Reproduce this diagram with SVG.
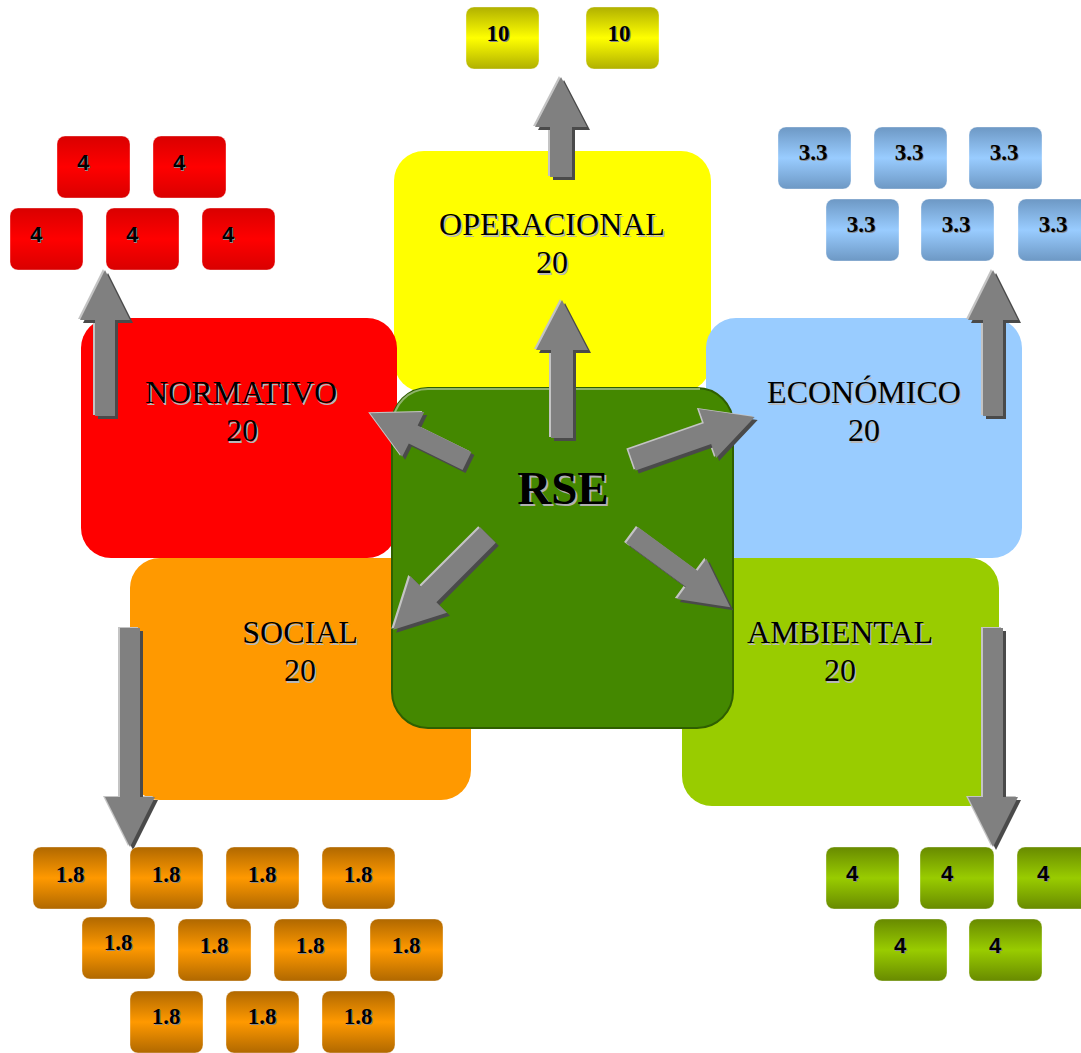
<svg xmlns="http://www.w3.org/2000/svg" xmlns:xlink="http://www.w3.org/1999/xlink" width="1081" height="1053" viewBox="0 0 1081 1053">
<style>
.big{font-family:"Liberation Serif","Times New Roman",serif;font-size:32px;text-anchor:middle;fill:#000}
.bigsh{font-family:"Liberation Serif","Times New Roman",serif;font-size:32px;text-anchor:middle;fill:#b8b8b8}
.rse{font-family:"Liberation Serif","Times New Roman",serif;font-size:47px;font-weight:bold;text-anchor:middle}
.num{font-family:"Liberation Serif","Times New Roman",serif;font-size:23px;font-weight:bold;text-anchor:middle;fill:#000}
.four{font-family:"Liberation Sans",Arial,sans-serif;font-size:22px;font-weight:bold;text-anchor:middle;fill:#000}
.sh{fill:#8a8a8a}
.sb{stroke:#ffffff;stroke-opacity:0.35;stroke-width:1}
.r{fill:url(#gR)}.y{fill:url(#gY)}.b{fill:url(#gB)}.o{fill:url(#gO)}.g{fill:url(#gG)}
.ah{fill:#c4c4c4}.ad{fill:#4a4a4a}.am{fill:#808080}
</style>
<defs>
<linearGradient id="gR" x1="0" y1="0" x2="0" y2="1"><stop offset="0" stop-color="#d90000"/><stop offset="0.5" stop-color="#ff0000"/><stop offset="1" stop-color="#d90000"/></linearGradient>
<linearGradient id="gY" x1="0" y1="0" x2="0" y2="1"><stop offset="0" stop-color="#b0b000"/><stop offset="0.5" stop-color="#ffff00"/><stop offset="1" stop-color="#b0b000"/></linearGradient>
<linearGradient id="gB" x1="0" y1="0" x2="0" y2="1"><stop offset="0" stop-color="#6d98c4"/><stop offset="0.5" stop-color="#99ccff"/><stop offset="1" stop-color="#6d98c4"/></linearGradient>
<linearGradient id="gO" x1="0" y1="0" x2="0" y2="1"><stop offset="0" stop-color="#b06800"/><stop offset="0.5" stop-color="#ff9900"/><stop offset="1" stop-color="#b06800"/></linearGradient>
<linearGradient id="gG" x1="0" y1="0" x2="0" y2="1"><stop offset="0" stop-color="#688a00"/><stop offset="0.5" stop-color="#99cc00"/><stop offset="1" stop-color="#688a00"/></linearGradient>
<path id="a1" transform="translate(561,177) rotate(-90)" d="M0,-11 H50 V-26 L100,0 L50,26 V11 H0 Z"/>
<path id="a2" transform="translate(562,438) rotate(-90)" d="M0,-11 H88 V-26 L138,0 L88,26 V11 H0 Z"/>
<path id="a3" transform="translate(105,416) rotate(-90)" d="M0,-10 H96 V-25 L146,0 L96,25 V10 H0 Z"/>
<path id="a4" transform="translate(993,416) rotate(-90)" d="M0,-10 H96 V-25 L146,0 L96,25 V10 H0 Z"/>
<path id="a5" transform="translate(130,628) rotate(90)" d="M0,-10 H169 V-25 L219,0 L169,25 V10 H0 Z"/>
<path id="a6" transform="translate(993,628) rotate(90)" d="M0,-10 H169 V-25 L219,0 L169,25 V10 H0 Z"/>
<path id="a7" transform="translate(467,461) rotate(206.3)" d="M0,-10 H60 V-25 L108,0 L60,25 V10 H0 Z"/>
<path id="a8" transform="translate(632,460) rotate(-19.3)" d="M0,-11 H80 V-26 L130,0 L80,26 V11 H0 Z"/>
<path id="a9" transform="translate(488,535) rotate(135)" d="M0,-11 H84 V-26 L134,0 L84,26 V11 H0 Z"/>
<path id="a10" transform="translate(632,535) rotate(36.3)" d="M0,-10 H74 V-25 L122,0 L74,25 V10 H0 Z"/>
</defs>
<rect width="1081" height="1053" fill="#ffffff"/>

<g id="operacional">
<rect x="394" y="151" width="317" height="241" rx="30" fill="#ffff00"/>
<text class="bigsh" x="553.5" y="236.5">OPERACIONAL</text><text class="big" x="552" y="235">OPERACIONAL</text>
<text class="bigsh" x="553.5" y="274.5">20</text><text class="big" x="552" y="273">20</text>
</g>
<g id="normativo">
<rect x="81" y="318" width="316" height="240" rx="30" fill="#ff0000"/>
<text class="bigsh" x="242.5" y="404.5">NORMATIVO</text><text class="big" x="241" y="403">NORMATIVO</text>
<text class="bigsh" x="243.5" y="442.5">20</text><text class="big" x="242" y="441">20</text>
</g>
<g id="economico">
<rect x="706" y="318" width="316" height="240" rx="30" fill="#99ccff"/>
<text class="bigsh" x="865.5" y="404.5">ECONÓMICO</text><text class="big" x="864" y="403">ECONÓMICO</text>
<text class="bigsh" x="865.5" y="442.5">20</text><text class="big" x="864" y="441">20</text>
</g>
<g id="social">
<rect x="130" y="558" width="341" height="242" rx="30" fill="#ff9900"/>
<text class="bigsh" x="301.5" y="644.5">SOCIAL</text><text class="big" x="300" y="643">SOCIAL</text>
<text class="bigsh" x="301.5" y="682.5">20</text><text class="big" x="300" y="681">20</text>
</g>
<g id="ambiental">
<rect x="682" y="558" width="317" height="248" rx="30" fill="#99cc00"/>
<text class="bigsh" x="841.5" y="644.5">AMBIENTAL</text><text class="big" x="840" y="643">AMBIENTAL</text>
<text class="bigsh" x="841.5" y="682.5">20</text><text class="big" x="840" y="681">20</text>
</g>
<g id="rse">
<rect x="392" y="388" width="341" height="340" rx="36" fill="#448800" stroke="#2f5f00" stroke-width="2"/>
<path d="M393,430 V424 A35,35 0 0 1 428,389 H700" fill="none" stroke="#8fb36a" stroke-width="2"/>
<text class="rse" x="565" y="506" fill="#b0b0b0">RSE</text>
<text class="rse" x="563" y="504" fill="#000">RSE</text>
</g>

<g id="connectors">
<use href="#a1" x="-2" y="-1" class="ah"/><use href="#a1" x="3" y="3" class="ad"/><use href="#a1" class="am"/>
<use href="#a2" x="-2" y="-1" class="ah"/><use href="#a2" x="3" y="3" class="ad"/><use href="#a2" class="am"/>
<use href="#a3" x="-2" y="-1" class="ah"/><use href="#a3" x="3" y="3" class="ad"/><use href="#a3" class="am"/>
<use href="#a4" x="-2" y="-1" class="ah"/><use href="#a4" x="3" y="3" class="ad"/><use href="#a4" class="am"/>
<use href="#a5" x="-2" y="-1" class="ah"/><use href="#a5" x="3" y="3" class="ad"/><use href="#a5" class="am"/>
<use href="#a6" x="-2" y="-1" class="ah"/><use href="#a6" x="3" y="3" class="ad"/><use href="#a6" class="am"/>
<use href="#a7" x="-2" y="-1" class="ah"/><use href="#a7" x="3" y="3" class="ad"/><use href="#a7" class="am"/>
<use href="#a8" x="-2" y="-1" class="ah"/><use href="#a8" x="3" y="3" class="ad"/><use href="#a8" class="am"/>
<use href="#a9" x="-2" y="-1" class="ah"/><use href="#a9" x="3" y="3" class="ad"/><use href="#a9" class="am"/>
<use href="#a10" x="-2" y="-1" class="ah"/><use href="#a10" x="3" y="3" class="ad"/><use href="#a10" class="am"/>
</g>

<g id="yellow-boxes">
<g id="y1"><rect class="y sb" x="466" y="7" width="73" height="62" rx="8"/><text class="num sh" x="499" y="42">10</text><text class="num" x="498" y="41">10</text></g>
<g id="y2"><rect class="y sb" x="586" y="7" width="73" height="62" rx="8"/><text class="num sh" x="620" y="42">10</text><text class="num" x="619" y="41">10</text></g>
</g>

<g id="red-boxes">
<g id="r1"><rect class="r sb" x="57" y="136" width="73" height="62" rx="8"/><text class="four sh" x="84" y="171">4</text><text class="four" x="83" y="170">4</text></g>
<g id="r2"><rect class="r sb" x="153" y="136" width="73" height="62" rx="8"/><text class="four sh" x="180" y="171">4</text><text class="four" x="179" y="170">4</text></g>
<g id="r3"><rect class="r sb" x="10" y="208" width="73" height="62" rx="8"/><text class="four sh" x="37" y="243">4</text><text class="four" x="36" y="242">4</text></g>
<g id="r4"><rect class="r sb" x="106" y="208" width="73" height="62" rx="8"/><text class="four sh" x="133" y="243">4</text><text class="four" x="132" y="242">4</text></g>
<g id="r5"><rect class="r sb" x="202" y="208" width="73" height="62" rx="8"/><text class="four sh" x="229" y="243">4</text><text class="four" x="228" y="242">4</text></g>
</g>

<g id="blue-boxes">
<g id="b1"><rect class="b sb" x="778" y="127" width="73" height="62" rx="8"/><text class="num sh" x="814" y="161">3.3</text><text class="num" x="813" y="160">3.3</text></g>
<g id="b2"><rect class="b sb" x="874" y="127" width="73" height="62" rx="8"/><text class="num sh" x="910" y="161">3.3</text><text class="num" x="909" y="160">3.3</text></g>
<g id="b3"><rect class="b sb" x="969" y="127" width="73" height="62" rx="8"/><text class="num sh" x="1005" y="161">3.3</text><text class="num" x="1004" y="160">3.3</text></g>
<g id="b4"><rect class="b sb" x="826" y="199" width="73" height="62" rx="8"/><text class="num sh" x="862" y="233">3.3</text><text class="num" x="861" y="232">3.3</text></g>
<g id="b5"><rect class="b sb" x="921" y="199" width="73" height="62" rx="8"/><text class="num sh" x="957" y="233">3.3</text><text class="num" x="956" y="232">3.3</text></g>
<g id="b6"><rect class="b sb" x="1018" y="199" width="73" height="62" rx="8"/><text class="num sh" x="1054" y="233">3.3</text><text class="num" x="1053" y="232">3.3</text></g>
</g>

<g id="orange-boxes">
<g id="o1"><rect class="o sb" x="33" y="847" width="74" height="62" rx="8"/><text class="num sh" x="71" y="883">1.8</text><text class="num" x="70" y="882">1.8</text></g>
<g id="o2"><rect class="o sb" x="130" y="847" width="73" height="62" rx="8"/><text class="num sh" x="167" y="883">1.8</text><text class="num" x="166" y="882">1.8</text></g>
<g id="o3"><rect class="o sb" x="226" y="847" width="73" height="62" rx="8"/><text class="num sh" x="263" y="883">1.8</text><text class="num" x="262" y="882">1.8</text></g>
<g id="o4"><rect class="o sb" x="322" y="847" width="73" height="62" rx="8"/><text class="num sh" x="359" y="883">1.8</text><text class="num" x="358" y="882">1.8</text></g>
<g id="o5"><rect class="o sb" x="82" y="917" width="73" height="62" rx="8"/><text class="num sh" x="119" y="951">1.8</text><text class="num" x="118" y="950">1.8</text></g>
<g id="o6"><rect class="o sb" x="178" y="919" width="73" height="62" rx="8"/><text class="num sh" x="215" y="954">1.8</text><text class="num" x="214" y="953">1.8</text></g>
<g id="o7"><rect class="o sb" x="274" y="919" width="73" height="62" rx="8"/><text class="num sh" x="311" y="954">1.8</text><text class="num" x="310" y="953">1.8</text></g>
<g id="o8"><rect class="o sb" x="370" y="919" width="73" height="62" rx="8"/><text class="num sh" x="407" y="954">1.8</text><text class="num" x="406" y="953">1.8</text></g>
<g id="o9"><rect class="o sb" x="130" y="991" width="73" height="62" rx="8"/><text class="num sh" x="167" y="1025">1.8</text><text class="num" x="166" y="1024">1.8</text></g>
<g id="o10"><rect class="o sb" x="226" y="991" width="73" height="62" rx="8"/><text class="num sh" x="263" y="1025">1.8</text><text class="num" x="262" y="1024">1.8</text></g>
<g id="o11"><rect class="o sb" x="322" y="991" width="73" height="62" rx="8"/><text class="num sh" x="359" y="1025">1.8</text><text class="num" x="358" y="1024">1.8</text></g>
</g>

<g id="green-boxes">
<g id="g1"><rect class="g sb" x="826" y="847" width="73" height="62" rx="8"/><text class="four sh" x="853" y="882">4</text><text class="four" x="852" y="881">4</text></g>
<g id="g2"><rect class="g sb" x="920" y="847" width="74" height="62" rx="8"/><text class="four sh" x="948" y="882">4</text><text class="four" x="947" y="881">4</text></g>
<g id="g3"><rect class="g sb" x="1017" y="847" width="73" height="62" rx="8"/><text class="four sh" x="1044" y="882">4</text><text class="four" x="1043" y="881">4</text></g>
<g id="g4"><rect class="g sb" x="874" y="919" width="73" height="62" rx="8"/><text class="four sh" x="901" y="954">4</text><text class="four" x="900" y="953">4</text></g>
<g id="g5"><rect class="g sb" x="969" y="919" width="73" height="62" rx="8"/><text class="four sh" x="996" y="954">4</text><text class="four" x="995" y="953">4</text></g>
</g>
</svg>
